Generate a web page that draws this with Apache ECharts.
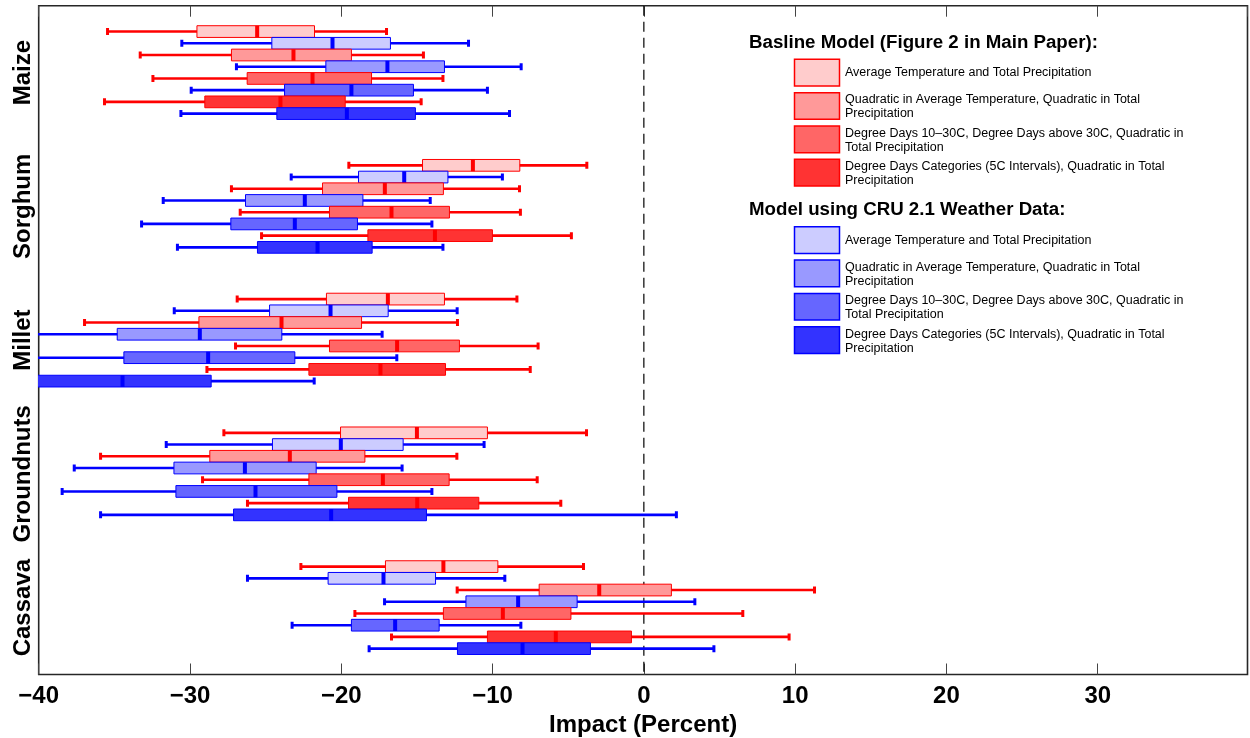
<!DOCTYPE html>
<html><head><meta charset="utf-8">
<script src="https://cdn.jsdelivr.net/npm/echarts@6/dist/echarts.min.js"></script>
<style>html,body{margin:0;padding:0;background:#fff}#c{width:1250px;height:738px}</style>
</head><body><div id="c"></div>
<script>
// ---------------- DATA ----------------
const crops = ['Maize', 'Sorghum', 'Millet', 'Groundnuts', 'Cassava'];
const legendTitles = ['Basline Model (Figure 2 in Main Paper):', 'Model using CRU 2.1 Weather Data:'];
const modelNames = [
  'Average Temperature and Total Precipitation',
  'Quadratic in Average Temperature, Quadratic in Total\nPrecipitation',
  'Degree Days 10\u201330C, Degree Days above 30C, Quadratic in\nTotal Precipitation',
  'Degree Days Categories (5C Intervals), Quadratic in Total\nPrecipitation'
];
const xMin = -40, xMax = 39.9, xStep = 10;
const zeroLine = [0];

// each row per crop: [min, q1, median, q3, max]
const baseAvg = [
  [-35.45, -29.54, -25.56, -21.77, -17.01],
  [-19.5, -14.63, -11.3, -8.2, -3.77],
  [-26.88, -20.98, -16.92, -13.18, -8.39],
  [-27.76, -20.05, -15.0, -10.34, -3.79],
  [-22.67, -17.08, -13.25, -9.65, -3.99]
];
const baseQuad = [
  [-33.29, -27.26, -23.16, -19.33, -14.57],
  [-27.26, -21.24, -17.12, -13.25, -8.22],
  [-36.97, -29.41, -23.95, -18.66, -12.32],
  [-35.91, -28.69, -23.4, -18.44, -12.36],
  [-12.34, -6.92, -2.95, 1.82, 11.28]
];
const baseDD = [
  [-32.45, -26.22, -21.9, -18.0, -13.28],
  [-26.68, -20.78, -16.68, -12.85, -8.16],
  [-26.99, -20.78, -16.31, -12.19, -6.99],
  [-29.17, -22.14, -17.25, -12.87, -7.05],
  [-19.1, -13.25, -9.32, -4.82, 6.54]
];
const baseDDCat = [
  [-35.65, -29.02, -24.02, -19.74, -14.72],
  [-25.27, -18.24, -13.81, -10.01, -4.79],
  [-28.88, -22.14, -17.41, -13.11, -7.51],
  [-26.2, -19.52, -14.98, -10.91, -5.49],
  [-16.68, -10.34, -5.82, -0.82, 9.6]
];
const cruAvg = [
  [-30.54, -24.59, -20.58, -16.75, -11.59],
  [-23.31, -18.86, -15.84, -12.95, -9.35],
  [-31.04, -24.74, -20.71, -16.9, -12.34],
  [-31.57, -24.55, -20.03, -15.91, -10.56],
  [-26.2, -20.87, -17.21, -13.77, -9.19]
];
const cruQuad = [
  [-26.93, -21.02, -16.95, -13.18, -8.11],
  [-31.77, -26.33, -22.41, -18.57, -14.12],
  [-42.5, -34.81, -29.35, -23.93, -17.3],
  [-37.65, -31.06, -26.37, -21.66, -15.98],
  [-17.14, -11.76, -8.31, -4.41, 3.37]
];
const cruDD = [
  [-29.92, -23.75, -19.33, -15.23, -10.34],
  [-33.2, -27.3, -23.07, -18.93, -14.01],
  [-42.0, -34.37, -28.8, -23.07, -16.33],
  [-38.45, -30.93, -25.67, -20.29, -14.01],
  [-23.25, -19.33, -16.44, -13.53, -8.13]
];
const cruDDCat = [
  [-30.6, -24.26, -19.63, -15.1, -8.88],
  [-30.83, -25.54, -21.57, -17.96, -13.28],
  [-47.0, -40.5, -34.46, -28.6, -21.79],
  [-35.91, -27.12, -20.67, -14.37, 2.15],
  [-18.16, -12.32, -8.02, -3.53, 4.63]
];

// ---------------- STYLE ----------------
const FONT = "'Liberation Sans', Arial, Helvetica, sans-serif";
const ROW_STEP = 0.0876;
const redFills = ['#FFCCCC', '#FF9999', '#FF6666', '#FF3333'];
const blueFills = ['#CCCCFF', '#9999FF', '#6666FF', '#3333FF'];
const RED = '#FF0000', BLUE = '#0000FF';

const seriesDefs = [
  {data: baseAvg, fill: redFills[0], line: RED, row: 0},
  {data: cruAvg, fill: blueFills[0], line: BLUE, row: 1},
  {data: baseQuad, fill: redFills[1], line: RED, row: 2},
  {data: cruQuad, fill: blueFills[1], line: BLUE, row: 3},
  {data: baseDD, fill: redFills[2], line: RED, row: 4},
  {data: cruDD, fill: blueFills[2], line: BLUE, row: 5},
  {data: baseDDCat, fill: redFills[3], line: RED, row: 6},
  {data: cruDDCat, fill: blueFills[3], line: BLUE, row: 7}
];

function makeRender(def) {
  return function (params, api) {
    const y = api.value(0);
    const pMin = api.coord([api.value(1), y]);
    const pQ1 = api.coord([api.value(2), y]);
    const pMed = api.coord([api.value(3), y]);
    const pQ3 = api.coord([api.value(4), y]);
    const pMax = api.coord([api.value(5), y]);
    const h = api.size([0, ROW_STEP])[1];
    const cy = pMed[1];
    const capH = 7;
    return {
      type: 'group',
      children: [
        {type: 'line', shape: {x1: pMin[0], y1: cy, x2: pMax[0], y2: cy},
          style: {stroke: def.line, lineWidth: 2.6}},
        {type: 'line', shape: {x1: pMin[0], y1: cy - capH / 2, x2: pMin[0], y2: cy + capH / 2},
          style: {stroke: def.line, lineWidth: 3}},
        {type: 'line', shape: {x1: pMax[0], y1: cy - capH / 2, x2: pMax[0], y2: cy + capH / 2},
          style: {stroke: def.line, lineWidth: 3}},
        {type: 'rect', shape: {x: pQ1[0], y: cy - h / 2, width: pQ3[0] - pQ1[0], height: h},
          style: {fill: def.fill, stroke: def.line, lineWidth: 1}},
        {type: 'line', shape: {x1: pMed[0], y1: cy - h / 2, x2: pMed[0], y2: cy + h / 2},
          style: {stroke: def.line, lineWidth: 4}}
      ]
    };
  };
}

const series = [];
series.push({
  type: 'custom', z: 1, silent: true, clip: true,
  data: zeroLine.map(v => [v]),
  encode: {x: 0},
  renderItem: function (params, api) {
    const top = api.coord([api.value(0), 0.5]);
    const bot = api.coord([api.value(0), 5.5]);
    return {type: 'line', shape: {x1: top[0], y1: top[1], x2: bot[0], y2: bot[1]},
      style: {stroke: '#000', lineWidth: 1.2, lineDash: [10, 6]}};
  }
});
seriesDefs.forEach(def => {
  series.push({
    type: 'custom', z: 2, silent: true, clip: true,
    data: def.data.map((v, ci) => [ci + 1 + (def.row - 3.5) * ROW_STEP].concat(v)),
    encode: {x: [1, 2, 3, 4, 5], y: 0},
    renderItem: makeRender(def)
  });
});

// ---------------- LEGEND (graphic) ----------------
const graphics = [];
const LX = 749, SWX = 794.5, SWW = 45, SWH = 26.7, GAP = 33.35, TX = 845;
graphics.push({type: 'text', x: LX, y: 43, style: {text: legendTitles[0], fontFamily: FONT, fontWeight: 'bold', fontSize: 18.7, fill: '#000', verticalAlign: 'middle', align: 'left'}});
graphics.push({type: 'text', x: LX, y: 209.5, style: {text: legendTitles[1], fontFamily: FONT, fontWeight: 'bold', fontSize: 18.7, fill: '#000', verticalAlign: 'middle', align: 'left'}});
[[59.3, redFills, RED], [226.7, blueFills, BLUE]].forEach(([top0, fills, stroke]) => {
  modelNames.forEach((name, i) => {
    const t = top0 + i * GAP;
    graphics.push({type: 'rect', shape: {x: SWX, y: t, width: SWW, height: SWH},
      style: {fill: fills[i], stroke: stroke, lineWidth: 1.5}});
    const multi = name.indexOf('\n') >= 0;
    graphics.push({type: 'text', x: TX, y: t + SWH / 2 + (multi ? 1 : 0),
      style: {text: name, fontFamily: FONT, fontSize: 12.5, lineHeight: 14, fill: '#000', verticalAlign: 'middle', align: 'left'}});
  });
});

// ---------------- CHART ----------------
const chart = echarts.init(document.getElementById('c'), null, {renderer: 'canvas'});
const tickFmt = v => (v < 0 ? '\u2212' + Math.abs(v) : String(v));
chart.setOption({
  animation: false,
  backgroundColor: '#fff',
  textStyle: {fontFamily: FONT},
  grid: {left: 38.7, right: 2.5, top: 5.7, bottom: 63.5, containLabel: false, outerBoundsMode: 'none',
    show: true, borderColor: '#262626', borderWidth: 1.6, backgroundColor: 'transparent'},
  xAxis: [
    {type: 'value', position: 'bottom', min: xMin, max: xMax, interval: xStep,
      axisLine: {show: false}, splitLine: {show: false},
      axisTick: {show: true, inside: true, length: 11, lineStyle: {color: '#444', width: 1}},
      axisLabel: {show: true, showMaxLabel: false, formatter: tickFmt, color: '#000', fontWeight: 'bold', fontSize: 24, margin: 10, fontFamily: FONT},
      name: 'Impact (Percent)', nameLocation: 'middle', nameGap: 30,
      nameTextStyle: {color: '#000', fontWeight: 'bold', fontSize: 24, fontFamily: FONT}},
    {type: 'value', position: 'top', min: xMin, max: xMax, interval: xStep,
      axisLine: {show: false}, splitLine: {show: false},
      axisTick: {show: true, inside: true, length: 11, lineStyle: {color: '#444', width: 1}},
      axisLabel: {show: false}}
  ],
  yAxis: {type: 'value', inverse: true, min: 0.5, max: 5.5, interval: 0.5,
    axisLine: {show: false}, axisTick: {show: false}, splitLine: {show: false},
    axisLabel: {show: true, rotate: 90, margin: 3, color: '#000', fontWeight: 'bold', fontSize: 24, fontFamily: FONT,
      formatter: v => (Math.abs(v - Math.round(v)) < 1e-6 && v >= 1 && v <= crops.length) ? crops[Math.round(v) - 1] : ''}},
  series: series,
  graphic: graphics
});
</script></body></html>
